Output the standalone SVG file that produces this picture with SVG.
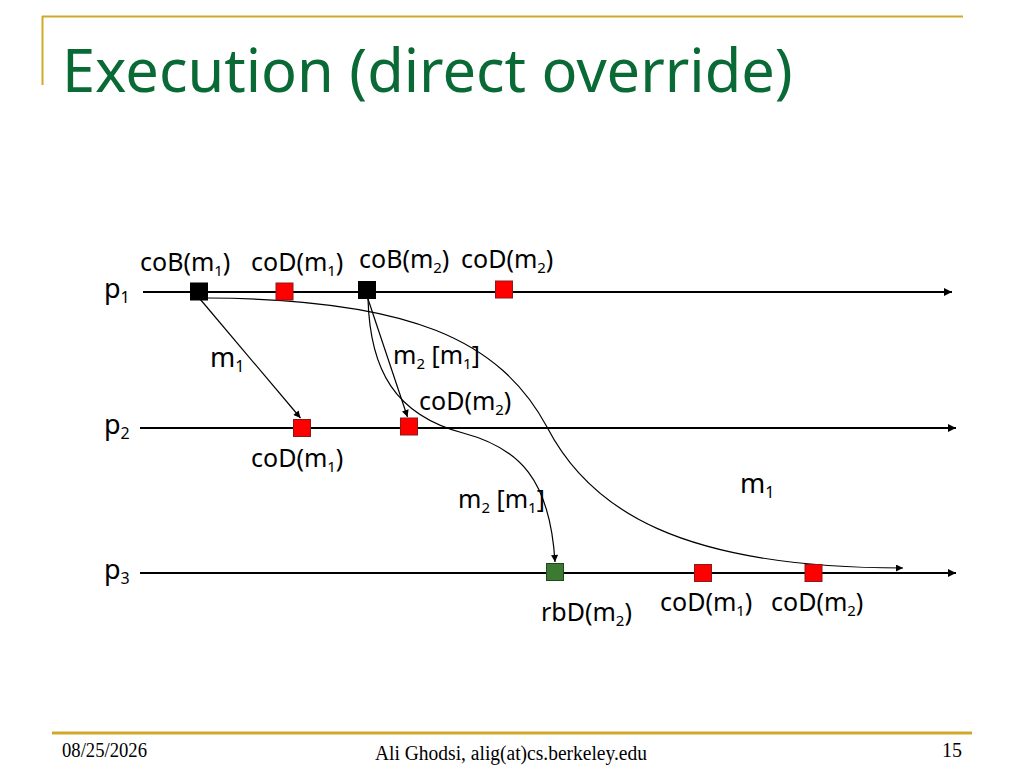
<svg xmlns="http://www.w3.org/2000/svg" width="1024" height="768" viewBox="0 0 1024 768">
<style>
  .title { font-family: "Noto Sans", "Open Sans", sans-serif; font-size: 59.5px; fill: #0A6A35; }
  .lbl { font-family: "Noto Sans", "Open Sans", sans-serif; font-size: 25px; fill: #000; }
  .big { font-family: "Noto Sans", "Open Sans", sans-serif; font-size: 27px; fill: #000; }
  .foot { font-family: "Liberation Serif", "Times New Roman", serif; font-size: 20px; fill: #000; }
  .tl { stroke: #000; stroke-width: 2; fill: none; }
  .msg { stroke: #000; stroke-width: 1.2; fill: none; }
  .red { fill: #FF0000; stroke: #8B1A1A; stroke-width: 1; }
  .blk { fill: #000; stroke: #000; stroke-width: 1; }
  .grn { fill: #3C7A32; stroke: #1F4A1A; stroke-width: 1; }
  .gold { stroke: #D1A92A; fill: none; }
</style>
<defs>
  <marker id="ah" viewBox="0 0 10 10" refX="10" refY="5" markerWidth="8" markerHeight="7" markerUnits="userSpaceOnUse" orient="auto">
    <path d="M0,0 L10,5 L0,10 Z" fill="#000"/>
  </marker>
  <marker id="ahl" viewBox="0 0 10 10" refX="10" refY="5" markerWidth="9" markerHeight="8" markerUnits="userSpaceOnUse" orient="auto">
    <path d="M0,0 L10,5 L0,10 Z" fill="#000"/>
  </marker>
</defs>
<rect width="1024" height="768" fill="#fff"/>

<g id="frame">
  <line class="gold" x1="42" y1="16.5" x2="963" y2="16.5" stroke-width="2"/>
  <line class="gold" x1="42.5" y1="16" x2="42.5" y2="85" stroke-width="2"/>
  <line class="gold" x1="52" y1="733" x2="972" y2="733" stroke-width="3"/>
</g>

<text id="title" class="title" x="62" y="92">Execution (direct override)</text>

<g id="process-labels">
  <text class="big" x="104" y="298">p<tspan font-size="16" dy="5">1</tspan></text>
  <text class="big" x="104" y="434">p<tspan font-size="16" dy="5">2</tspan></text>
  <text class="big" x="104" y="579">p<tspan font-size="16" dy="5">3</tspan></text>
</g>

<g id="connectors">
  <line class="tl" x1="143" y1="292" x2="952" y2="292" marker-end="url(#ahl)"/>
  <line class="tl" x1="140" y1="428" x2="956" y2="428" marker-end="url(#ahl)"/>
  <line class="tl" x1="140" y1="573" x2="956" y2="573" marker-end="url(#ahl)"/>
  <line class="msg" x1="200" y1="299" x2="300.5" y2="418" marker-end="url(#ah)"/>
  <line class="msg" x1="368" y1="299" x2="407.5" y2="417" marker-end="url(#ah)"/>
  <path class="msg" d="M368,299 C370,370 395,415 463,433 C520,448 550,480 555,562" marker-end="url(#ah)"/>
  <path class="msg" d="M208,298 C410,299 500,340 547,427 C590,510 680,568 903,568" marker-end="url(#ah)"/>
  <text class="big" x="210" y="367">m<tspan font-size="16" dy="5">1</tspan></text>
  <text class="lbl" x="393" y="364">m<tspan font-size="15" dy="5">2</tspan><tspan dy="-5"> [m</tspan><tspan font-size="15" dy="5">1</tspan><tspan dy="-5">]</tspan></text>
  <text class="lbl" x="458" y="508">m<tspan font-size="15" dy="5">2</tspan><tspan dy="-5"> [m</tspan><tspan font-size="15" dy="5">1</tspan><tspan dy="-5">]</tspan></text>
  <text class="big" x="740" y="493">m<tspan font-size="16" dy="5">1</tspan></text>
</g>

<g id="p1-coB-m1">
  <rect class="blk" x="190.5" y="283" width="17" height="17"/>
  <text class="lbl" x="140" y="271">coB(m<tspan font-size="15" dy="5">1</tspan><tspan dy="-5">)</tspan></text>
</g>
<g id="p1-coD-m1">
  <rect class="red" x="276" y="283" width="17" height="17"/>
  <text class="lbl" x="251" y="271">coD(m<tspan font-size="15" dy="5">1</tspan><tspan dy="-5">)</tspan></text>
</g>
<g id="p1-coB-m2">
  <rect class="blk" x="358.5" y="281.5" width="17" height="17"/>
  <text class="lbl" x="359" y="268">coB(m<tspan font-size="15" dy="5">2</tspan><tspan dy="-5">)</tspan></text>
</g>
<g id="p1-coD-m2">
  <rect class="red" x="495.5" y="281" width="17" height="17"/>
  <text class="lbl" x="461" y="268">coD(m<tspan font-size="15" dy="5">2</tspan><tspan dy="-5">)</tspan></text>
</g>

<g id="p2-coD-m1">
  <rect class="red" x="293.5" y="419.5" width="17" height="17"/>
  <text class="lbl" x="251" y="467">coD(m<tspan font-size="15" dy="5">1</tspan><tspan dy="-5">)</tspan></text>
</g>
<g id="p2-coD-m2">
  <rect class="red" x="400.5" y="418" width="17" height="17"/>
  <text class="lbl" x="419" y="410">coD(m<tspan font-size="15" dy="5">2</tspan><tspan dy="-5">)</tspan></text>
</g>

<g id="p3-rbD-m2">
  <rect class="grn" x="546.5" y="563.5" width="17" height="17"/>
  <text class="lbl" x="541" y="621">rbD(m<tspan font-size="15" dy="5">2</tspan><tspan dy="-5">)</tspan></text>
</g>
<g id="p3-coD-m1">
  <rect class="red" x="694.5" y="564.5" width="17" height="17"/>
  <text class="lbl" x="660" y="611">coD(m<tspan font-size="15" dy="5">1</tspan><tspan dy="-5">)</tspan></text>
</g>
<g id="p3-coD-m2">
  <rect class="red" x="805" y="564.5" width="17" height="17"/>
  <text class="lbl" x="771" y="611">coD(m<tspan font-size="15" dy="5">2</tspan><tspan dy="-5">)</tspan></text>
</g>

<g id="footer">
  <text class="foot" x="62" y="757" textLength="85" lengthAdjust="spacingAndGlyphs">08/25/2026</text>
  <text class="foot" x="375" y="760" font-size="22" textLength="272" lengthAdjust="spacingAndGlyphs">Ali Ghodsi, alig(at)cs.berkeley.edu</text>
  <text class="foot" x="962" y="757" text-anchor="end">15</text>
</g>
</svg>
